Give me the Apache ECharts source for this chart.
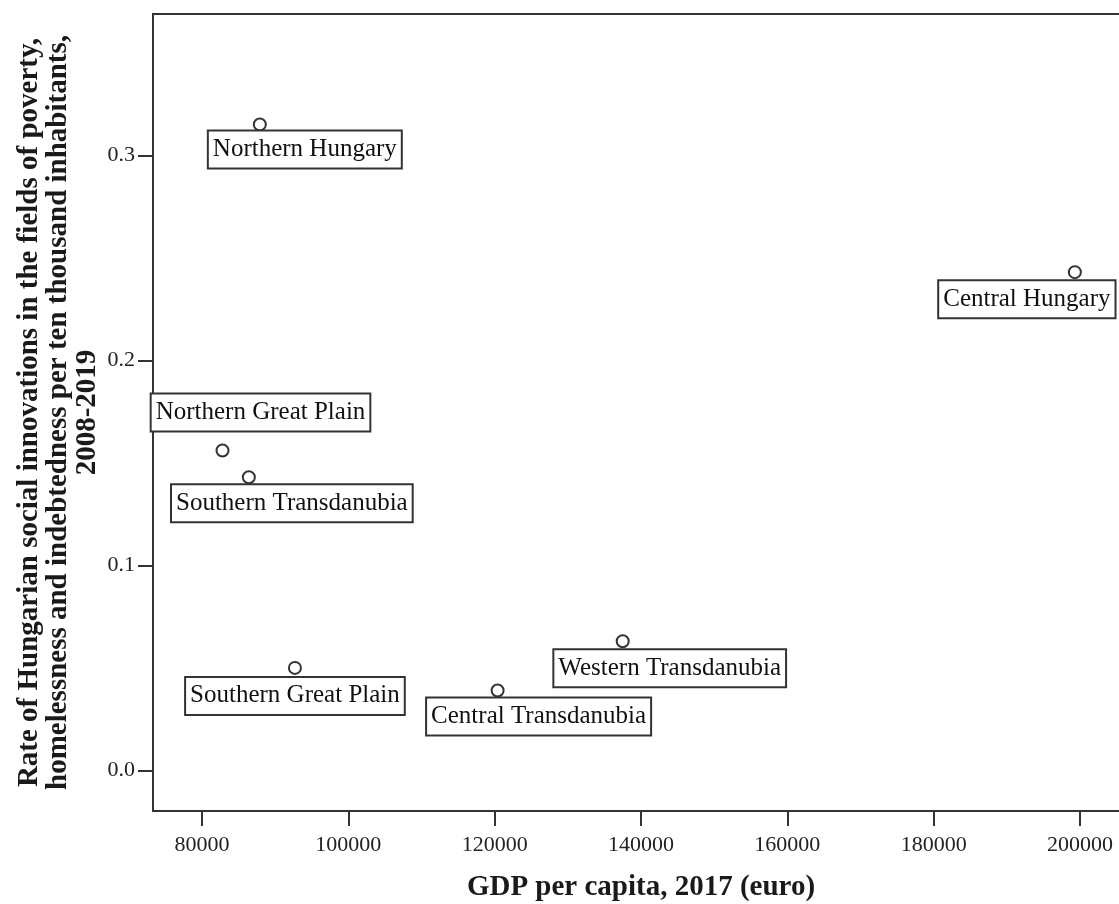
<!DOCTYPE html>
<html>
<head>
<meta charset="utf-8">
<title>Social innovations vs GDP per capita</title>
<script src="https://cdn.jsdelivr.net/npm/echarts@6/dist/echarts.min.js"></script>
<style>
  html, body { margin: 0; padding: 0; background: #fff; }
  #chart { width: 1119px; height: 904px; }
</style>
</head>
<body>
<div id="chart"></div>
<script>
// Hungarian NUTS-2 regions
const regions = [
  'Northern Hungary',
  'Central Hungary',
  'Northern Great Plain',
  'Southern Transdanubia',
  'Southern Great Plain',
  'Central Transdanubia',
  'Western Transdanubia'
];
// GDP per capita, 2017 (euro)
const gdpPerCapita = [87900, 199300, 82800, 86400, 92700, 120400, 137500];
// Social innovations per ten thousand inhabitants, 2008-2019
const innovationRate = [0.315, 0.243, 0.156, 0.143, 0.050, 0.039, 0.063];

const xTicks = [80000, 100000, 120000, 140000, 160000, 180000, 200000];
const yTicks = [0.0, 0.1, 0.2, 0.3];

// Shift of each region's tag box from its default spot under the point (px)
const labelOffsets = [
  [45, 0], [-48, 2], [38, -63], [43, 1], [0, 3], [41, 1], [47, 2]
];

const AXIS = '#333';
const SERIF = '"Liberation Serif", "Times New Roman", serif';

const points = regions.map((name, i) => ({
  name: name,
  value: [gdpPerCapita[i], innovationRate[i]],
  label: { offset: labelOffsets[i] }
}));

const chart = echarts.init(document.getElementById('chart'), null, { renderer: 'canvas' });

chart.setOption({
  animation: false,
  backgroundColor: '#fff',
  grid: {
    left: 153,
    top: 14,
    width: 976,
    height: 797,
    show: true,
    borderColor: AXIS,
    borderWidth: 2,
    containLabel: false,
    outerBoundsMode: 'none'
  },
  xAxis: {
    type: 'value',
    min: 73300,
    max: 206700,
    splitLine: { show: false },
    axisLine: { show: true, onZero: false, lineStyle: { color: AXIS, width: 2 } },
    axisTick: { show: true, inside: false, length: 15, lineStyle: { color: AXIS, width: 2 }, customValues: xTicks },
    axisLabel: {
      customValues: xTicks,
      margin: 23,
      color: '#222',
      fontFamily: SERIF,
      fontSize: 22,
      formatter: v => String(v)
    },
    name: 'GDP per capita, 2017 (euro)',
    nameLocation: 'middle',
    nameGap: 62,
    nameMoveOverlap: false,
    nameTextStyle: { color: '#1a1a1a', fontFamily: SERIF, fontSize: 29, fontWeight: 'bold' }
  },
  yAxis: {
    type: 'value',
    min: -0.0198,
    max: 0.3689,
    splitLine: { show: false },
    axisLine: { show: true, onZero: false, lineStyle: { color: AXIS, width: 2 } },
    axisTick: { show: true, inside: false, length: 15, lineStyle: { color: AXIS, width: 2 }, customValues: yTicks },
    axisLabel: {
      customValues: yTicks,
      margin: 18,
      color: '#222',
      fontFamily: SERIF,
      fontSize: 22,
      formatter: v => v.toFixed(1)
    },
    name: 'Rate of Hungarian social innovations in the fields of poverty,\nhomelessness and indebtedness per ten thousand inhabitants,\n2008-2019',
    nameLocation: 'middle',
    nameRotate: 90,
    nameGap: 51,
    nameMoveOverlap: false,
    nameTextStyle: {
      color: '#1a1a1a',
      fontFamily: SERIF,
      fontSize: 29,
      fontWeight: 'bold',
      lineHeight: 29,
      align: 'center'
    }
  },
  series: [{
    type: 'scatter',
    data: points,
    symbol: 'circle',
    symbolSize: 12,
    itemStyle: { color: '#fff', borderColor: AXIS, borderWidth: 2, opacity: 1 },
    label: {
      show: true,
      position: 'bottom',
      distance: 0,
      formatter: p => p.name,
      color: '#111',
      opacity: 1,
      fontFamily: SERIF,
      fontSize: 25,
      lineHeight: 26,
      backgroundColor: '#fff',
      borderColor: AXIS,
      borderWidth: 2,
      padding: [5, 4, 5, 4]
    }
  }]
});
</script>
</body>
</html>
